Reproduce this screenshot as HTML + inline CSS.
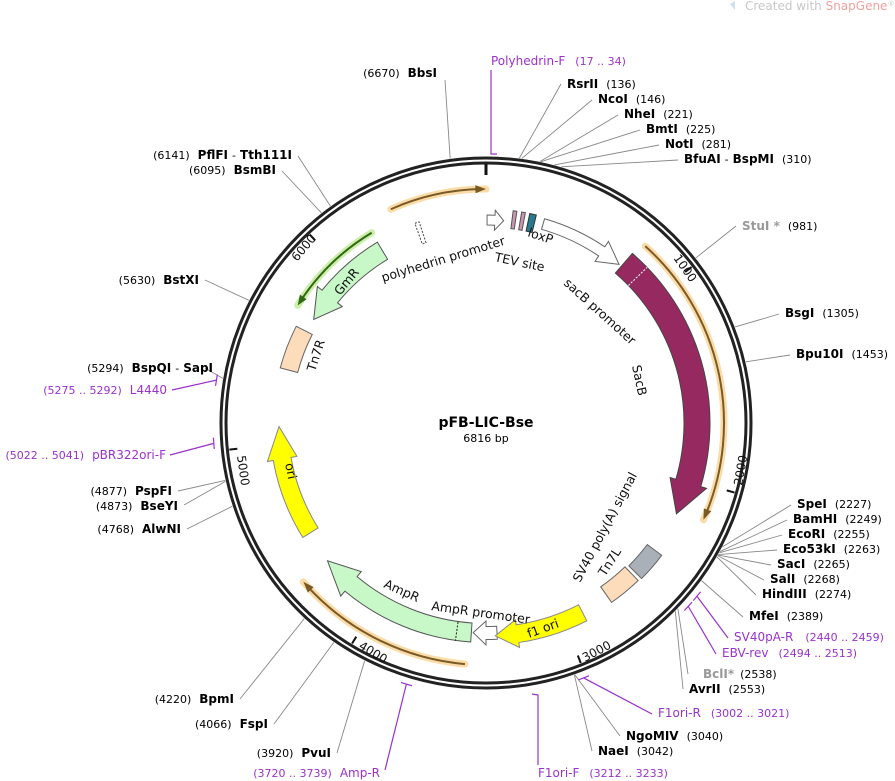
<!DOCTYPE html>
<html><head><meta charset="utf-8"><style>
html,body{margin:0;padding:0;background:#fff;}
svg{display:block;font-family:"DejaVu Sans","Liberation Sans",sans-serif;}
.n{font-weight:bold;font-size:12px;fill:#000}
.p{font-size:11px;fill:#000}
.pr{font-size:12px;fill:#9a32cd}
.prn{font-size:11px;fill:#9a32cd}
.f{font-size:12.5px;fill:#111}
.t{font-size:12px;fill:#111}
</style></head><body>
<svg id="s" width="895" height="781" viewBox="0 0 895 781" xmlns="http://www.w3.org/2000/svg">
<text x="745" y="10" font-size="12" fill="#c8c8c8">Created with <tspan fill="#f2a0a0">SnapGene</tspan><tspan font-size="7" dy="-4">®</tspan></text>
<path d="M730 4 l5 -3 l0 9 z" fill="#cfe0ee"/>
<g id="lines" stroke="#888" stroke-width="0.9" fill="none"></g>
<g id="plines" stroke="#9a32cd" stroke-width="1.2" fill="none"></g>
<g id="ring"></g>
<g id="feat"></g>

<text x="486" y="427" text-anchor="middle" font-weight="bold" font-size="14">pFB-LIC-Bse</text>
<text x="486" y="442" text-anchor="middle" font-size="11">6816 bp</text>

<text class="f" transform="translate(383,282) rotate(-17)">polyhedrin promoter</text>
<text class="f" transform="translate(494,261) rotate(12)">TEV site</text>
<text class="f" transform="translate(527,236) rotate(18)">loxP</text>
<text class="f" transform="translate(563,284) rotate(42)">sacB promoter</text>
<text class="f" transform="translate(632,366) rotate(78)">SacB</text>
<text class="f" transform="translate(580,583) rotate(-62)">SV40 poly(A) signal</text>
<text class="f" transform="translate(605,577) rotate(-57)">Tn7L</text>
<text class="f" transform="translate(529,638) rotate(-20)">f1 ori</text>
<text class="f" transform="translate(431,610) rotate(8)">AmpR promoter</text>
<text class="f" transform="translate(383,587) rotate(24)">AmpR</text>
<text class="f" transform="translate(285,464) rotate(78)">ori</text>
<text class="f" transform="translate(315,372) rotate(-72)">Tn7R</text>
<text class="f" transform="translate(340,296) rotate(-50)">GmR</text>

<text class="t" transform="translate(673,258) rotate(55)">1000</text>
<text class="t" transform="translate(742,486) rotate(-80)">2000</text>
<text class="t" transform="translate(585,662) rotate(-28)">3000</text>
<text class="t" transform="translate(358,648) rotate(31)">4000</text>
<text class="t" transform="translate(237,456) rotate(82)">5000</text>
<text class="t" transform="translate(297,262) rotate(-50)">6000</text>

<text x="567" y="88"><tspan class="n">RsrII</tspan><tspan class="p" dx="8">(136)</tspan></text>
<text x="598" y="103"><tspan class="n">NcoI</tspan><tspan class="p" dx="8">(146)</tspan></text>
<text x="624" y="118"><tspan class="n">NheI</tspan><tspan class="p" dx="8">(221)</tspan></text>
<text x="646" y="133"><tspan class="n">BmtI</tspan><tspan class="p" dx="8">(225)</tspan></text>
<text x="665" y="148"><tspan class="n">NotI</tspan><tspan class="p" dx="8">(281)</tspan></text>
<text x="684" y="163"><tspan class="n">BfuAI</tspan><tspan class="p" dx="4">-</tspan><tspan class="n" dx="4">BspMI</tspan><tspan class="p" dx="8">(310)</tspan></text>
<text x="742" y="230"><tspan class="n" style="fill:#999">StuI *</tspan><tspan class="p" dx="8">(981)</tspan></text>
<text x="785" y="317"><tspan class="n">BsgI</tspan><tspan class="p" dx="8">(1305)</tspan></text>
<text x="796" y="358"><tspan class="n">Bpu10I</tspan><tspan class="p" dx="8">(1453)</tspan></text>
<text x="797" y="508"><tspan class="n">SpeI</tspan><tspan class="p" dx="8">(2227)</tspan></text>
<text x="793" y="523"><tspan class="n">BamHI</tspan><tspan class="p" dx="8">(2249)</tspan></text>
<text x="788" y="538"><tspan class="n">EcoRI</tspan><tspan class="p" dx="8">(2255)</tspan></text>
<text x="783" y="553"><tspan class="n">Eco53kI</tspan><tspan class="p" dx="8">(2263)</tspan></text>
<text x="777" y="568"><tspan class="n">SacI</tspan><tspan class="p" dx="8">(2265)</tspan></text>
<text x="770" y="583"><tspan class="n">SalI</tspan><tspan class="p" dx="8">(2268)</tspan></text>
<text x="762" y="598"><tspan class="n">HindIII</tspan><tspan class="p" dx="8">(2274)</tspan></text>
<text x="749" y="620"><tspan class="n">MfeI</tspan><tspan class="p" dx="8">(2389)</tspan></text>
<text x="734" y="641"><tspan class="pr">SV40pA-R</tspan><tspan class="prn" dx="12">(2440 .. 2459)</tspan></text>
<text x="722" y="657"><tspan class="pr">EBV-rev</tspan><tspan class="prn" dx="10">(2494 .. 2513)</tspan></text>
<text x="703" y="678"><tspan class="n" style="fill:#999">BclI</tspan><tspan class="n" style="fill:#999">*</tspan><tspan class="p" dx="6">(2538)</tspan></text>
<text x="689" y="693"><tspan class="n">AvrII</tspan><tspan class="p" dx="8">(2553)</tspan></text>
<text x="658" y="717"><tspan class="pr">F1ori-R</tspan><tspan class="prn" dx="10">(3002 .. 3021)</tspan></text>
<text x="626" y="740"><tspan class="n">NgoMIV</tspan><tspan class="p" dx="8">(3040)</tspan></text>
<text x="598" y="755"><tspan class="n">NaeI</tspan><tspan class="p" dx="8">(3042)</tspan></text>
<text x="538" y="777"><tspan class="pr">F1ori-F</tspan><tspan class="prn" dx="10">(3212 .. 3233)</tspan></text>
<text x="491" y="65"><tspan class="pr">Polyhedrin-F</tspan><tspan class="prn" dx="10">(17 .. 34)</tspan></text>

<text x="437" y="77" text-anchor="end"><tspan class="p">(6670)</tspan><tspan class="n" dx="8">BbsI</tspan></text>
<text x="292" y="159" text-anchor="end"><tspan class="p">(6141)</tspan><tspan class="n" dx="8">PflFI</tspan><tspan class="p" dx="4">-</tspan><tspan class="n" dx="4">Tth111I</tspan></text>
<text x="276" y="174" text-anchor="end"><tspan class="p">(6095)</tspan><tspan class="n" dx="8">BsmBI</tspan></text>
<text x="199" y="284" text-anchor="end"><tspan class="p">(5630)</tspan><tspan class="n" dx="8">BstXI</tspan></text>
<text x="213" y="372" text-anchor="end"><tspan class="p">(5294)</tspan><tspan class="n" dx="8">BspQI</tspan><tspan class="p" dx="4">-</tspan><tspan class="n" dx="4">SapI</tspan></text>
<text x="167" y="394" text-anchor="end"><tspan class="prn">(5275 .. 5292)</tspan><tspan class="pr" dx="8">L4440</tspan></text>
<text x="166" y="459" text-anchor="end"><tspan class="prn">(5022 .. 5041)</tspan><tspan class="pr" dx="8">pBR322ori-F</tspan></text>
<text x="172" y="495" text-anchor="end"><tspan class="p">(4877)</tspan><tspan class="n" dx="8">PspFI</tspan></text>
<text x="178" y="510" text-anchor="end"><tspan class="p">(4873)</tspan><tspan class="n" dx="8">BseYI</tspan></text>
<text x="181" y="533" text-anchor="end"><tspan class="p">(4768)</tspan><tspan class="n" dx="8">AlwNI</tspan></text>
<text x="234" y="703" text-anchor="end"><tspan class="p">(4220)</tspan><tspan class="n" dx="8">BpmI</tspan></text>
<text x="268" y="728" text-anchor="end"><tspan class="p">(4066)</tspan><tspan class="n" dx="8">FspI</tspan></text>
<text x="331" y="757" text-anchor="end"><tspan class="p">(3920)</tspan><tspan class="n" dx="8">PvuI</tspan></text>
<text x="380" y="777" text-anchor="end"><tspan class="prn">(3720 .. 3739)</tspan><tspan class="pr" dx="8">Amp-R</tspan></text>
</svg>
<script>
(function(){
var NS="http://www.w3.org/2000/svg",CX=486,CY=423,L=6816;
function P(a,r){var t=a*Math.PI/180;return [CX+r*Math.sin(t),CY-r*Math.cos(t)];}
function f(p){return p[0].toFixed(2)+" "+p[1].toFixed(2);}
function A(pos){return pos*360/L;}
function el(g,tag,at){var e=document.createElementNS(NS,tag);for(var k in at)e.setAttribute(k,at[k]);document.getElementById(g).appendChild(e);return e;}
function arc(r,a1,a2){var s=a2>a1?1:0,l=Math.abs(a2-a1)>180?1:0;return "M"+f(P(a1,r))+" A"+r+" "+r+" 0 "+l+" "+s+" "+f(P(a2,r));}
function arrow(r,w,hw,a1,a2,head,fill,stroke){
 var s=a2>a1?1:-1,ah=a2-s*head,sw=s>0?1:0,l=Math.abs(ah-a1)>180?1:0;
 var ro=r+w/2,ri=r-w/2;
 var d="M"+f(P(a1,ro))+" A"+ro+" "+ro+" 0 "+l+" "+sw+" "+f(P(ah,ro))+" L"+f(P(ah,r+hw/2))+" L"+f(P(a2,r))+" L"+f(P(ah,r-hw/2))+" L"+f(P(ah,ri))+" A"+ri+" "+ri+" 0 "+l+" "+(1-sw)+" "+f(P(a1,ri))+" Z";
 el("feat","path",{d:d,fill:fill,stroke:stroke,"stroke-width":1});
}
function box(r1,r2,a1,a2,fill,stroke,dash){
 var d="M"+f(P(a1,r2))+" A"+r2+" "+r2+" 0 0 1 "+f(P(a2,r2))+" L"+f(P(a2,r1))+" A"+r1+" "+r1+" 0 0 0 "+f(P(a1,r1))+" Z";
 var at={d:d,fill:fill,stroke:stroke,"stroke-width":1};if(dash)at["stroke-dasharray"]="2 1.5";
 el("feat","path",at);
}
function glowArc(r,a1,a2,glow,core){
 var s=a2>a1?1:-1;
 el("feat","path",{d:arc(r,a1,a2),fill:"none",stroke:glow,"stroke-width":7,"stroke-linecap":"round"});
 el("feat","path",{d:arc(r,a1,a2-s*1.2),fill:"none",stroke:core,"stroke-width":2});
 var ah=a2-s*2.6,p1=P(ah,r+4),p2=P(a2,r),p3=P(ah,r-4);
 el("feat","path",{d:"M"+f(p1)+" L"+f(p2)+" L"+f(p3)+" Z",fill:core});
}
var en=[[136,561,84],[146,592,100],[221,618,115],[225,640,130],[281,659,145],[310,678,160],[981,736,226],[1305,779,314],[1453,790,355],
[2227,791,505],[2249,787,520],[2255,782,535],[2263,777,550],[2265,771,565],[2268,764,580],[2274,756,595],[2389,743,617],[2538,688,674],[2553,683,689],
[3040,620,736],[3042,592,751],[6670,445,80],[6141,298,156],[6095,282,171],[5630,205,280],[5294,205,368],[4877,178,491],[4873,184,505],[4768,187,529],
[4220,240,699],[4066,274,724],[3920,337,753]];
en.forEach(function(e){var p=P(A(e[0]),267);el("lines","path",{d:"M"+f(p)+" L"+e[1]+" "+e[2]});});
var pr=[[25,491,70],[5283,172,390],[5031,170,455],[2450,728,638],[2503,716,654],[3011,652,714],[3222,538,765],[3729,385,770]];
pr.forEach(function(e){var a=A(e[0]),q=P(a,273);
 if(e[0]==25){el("plines","path",{d:"M491 70 L491 154 L497 154"});return;}
 if(e[0]==3222){el("plines","path",{d:"M538 765 L538 695 L532 694"});return;}
 el("plines","path",{d:"M"+f(q)+" L"+e[1]+" "+e[2]});
 el("plines","path",{d:"M"+f(P(a-1.2,273))+" L"+f(P(a+1.2,273))});});
el("ring","circle",{cx:CX,cy:CY,r:265,fill:"none",stroke:"#222","stroke-width":3});
el("ring","circle",{cx:CX,cy:CY,r:260,fill:"none",stroke:"#222","stroke-width":3});
el("ring","path",{d:"M"+f(P(0,259))+" L"+f(P(0,248)),stroke:"#111","stroke-width":3});
for(var k=1;k<=6;k++){var a=A(k*1000);el("ring","path",{d:"M"+f(P(a,258))+" L"+f(P(a,250)),stroke:"#111","stroke-width":2});}
glowArc(234,-24,0,"#fbdca8","#7a5a25");
glowArc(238,42,114,"#fbdca8","#7a5a25");
glowArc(242,185,229,"#fbdca8","#7a5a25");
glowArc(222,-31,-58,"#cdeeaa","#2f6a12");
arrow(201,20,32,-31,-59,8,"#c8f7c8","#555");
box(195,213,-75,-63,"#fddcbc","#666");
arrow(207,18,30,-122,-91,9,"#ffff00","#888");
arrow(210,19,32,184,229,9,"#c8f7c8","#555");
el("feat","path",{d:"M"+f(P(188,201))+" L"+f(P(188,220)),stroke:"#222","stroke-width":1,"stroke-dasharray":"2 1.5"});
arrow(210,13,24,177,183.5,3.5,"#fff","#666");
arrow(213,18,28,153,177.5,6,"#ffff00","#888");
box(200,219,136,145,"#fddcbc","#666");
box(202,220,127,135,"#a9b0b8","#666");
arrow(211,26,38,40.8,115.5,9,"#962a60","#444");
el("feat","path",{d:"M"+f(P(46,198))+" L"+f(P(46,224)),stroke:"#fff","stroke-width":1,"stroke-dasharray":"2 1.5"});
arrow(207,11,24,16,40,6,"#fff","#666");
arrow(203,10,20,0.3,5,2.5,"#fff","#666");
box(196,214,7.3,8.3,"#c898b0","#555");
box(196,214,9.6,10.6,"#c898b0","#555");
box(196,214,11.8,13.6,"#2a7a8e","#333");
box(190,212,-19.6,-18.4,"#fff","#444",true);
})();
</script>
</body></html>
